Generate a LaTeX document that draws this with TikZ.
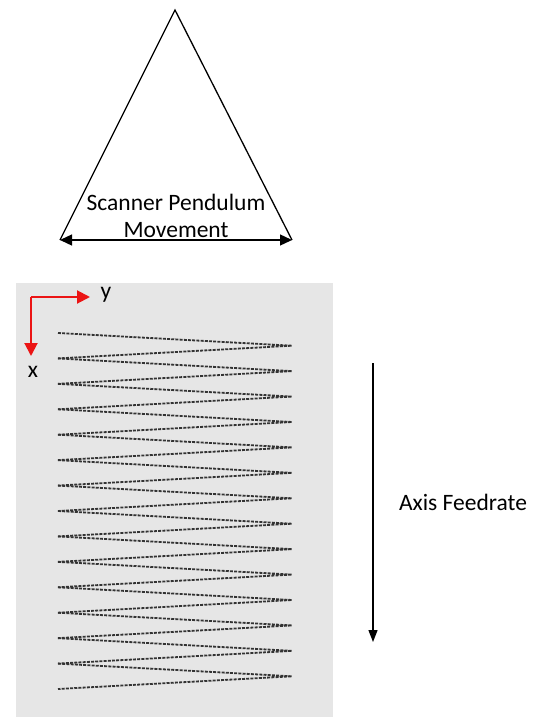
\documentclass[tikz,border=0pt]{standalone}
\usepackage{fontspec}
\setmainfont{Carlito}
\usetikzlibrary{arrows.meta}
\definecolor{panelgray}{RGB}{230,230,230}
\definecolor{axisred}{RGB}{235,20,20}

\begin{document}
\begin{tikzpicture}[x=1pt,y=-1pt,
  label/.style={font=\fontsize{23.5}{27}\selectfont},
  pathline/.style={dash pattern=on 3pt off 1.2pt,line width=1.8pt,black!80}]
\useasboundingbox (0,0) rectangle (535,717);
% pendulum triangle
\coordinate (apex) at (175,10);
\coordinate (bl) at (60,240);
\coordinate (br) at (292,240);
\draw[line width=1.3pt] (bl) -- (apex) -- (br);
\draw[line width=1.3pt,{Triangle[length=12pt,width=11pt]}-{Triangle[length=12pt,width=11pt]}] (bl) -- (br);
\node[label,align=center] (pend) at (176,216) {Scanner Pendulum\\Movement};
% scan panel
\fill[panelgray] (16,283) rectangle (333,717);
\coordinate (o) at (31,297);
\coordinate (ytip) at (90,297);
\coordinate (xtip) at (31,356);
\draw[axisred,line width=2pt,-{Triangle[length=13pt,width=13pt]}] (o) -- (ytip);
\draw[axisred,line width=2pt,-{Triangle[length=13pt,width=13pt]}] (o) -- (xtip);
\node[label] (ylab) at (106,295) {y};
\node[label] (xlab) at (33,372) {x};
% zigzag scan path
\foreach \i in {0,...,13}
  \draw[pathline] (58,333+25.43*\i) -- (292,345.7+25.43*\i) -- (58,358.4+25.43*\i);
% feed direction
\coordinate (fstart) at (373,363);
\coordinate (fend) at (373,642);
\draw[line width=1.3pt,-{Triangle[length=12pt,width=9pt]}] (fstart) -- (fend);
\node[label] (feed) at (463,502) {Axis Feedrate};
\end{tikzpicture}
\end{document}
